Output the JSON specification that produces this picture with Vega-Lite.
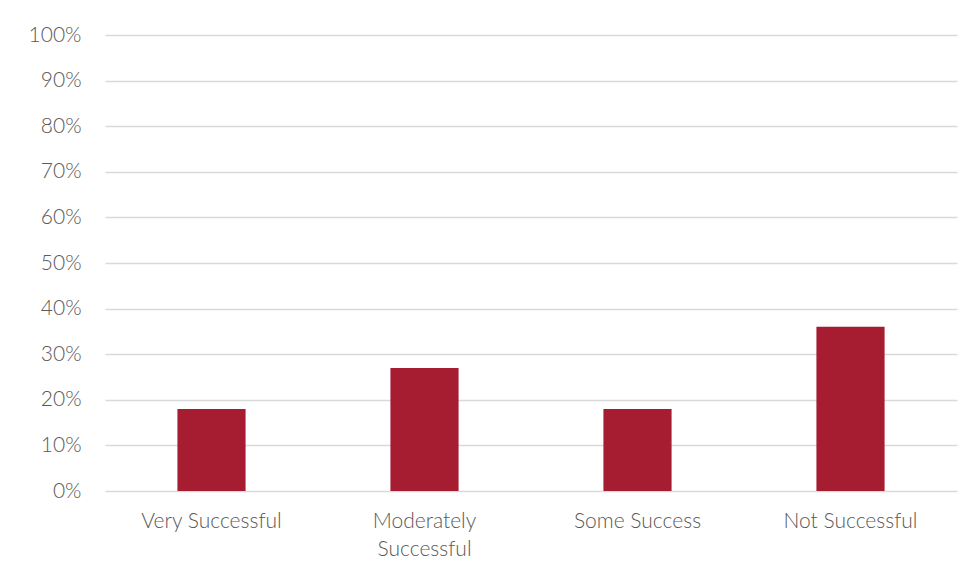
{
  "$schema": "https://vega.github.io/schema/vega-lite/v6.json",
  "autosize": {"type": "none"},
  "width": 852,
  "height": 456,
  "padding": {"left": 105, "top": 35, "right": 13, "bottom": 90},
  "background": "white",
  "config": {
    "view": {"stroke": null},
    "font": "Lato"
  },
  "data": {
    "values": [
      {"category": "Very Successful", "value": 0.18},
      {"category": "Moderately Successful", "value": 0.27},
      {"category": "Some Success", "value": 0.18},
      {"category": "Not Successful", "value": 0.36}
    ]
  },
  "mark": {"type": "bar", "color": "#A61D31"},
  "encoding": {
    "x": {
      "field": "category",
      "type": "nominal",
      "sort": null,
      "scale": {"paddingInner": 0.68, "paddingOuter": 0.34},
      "axis": {
        "title": null,
        "labelAngle": 0,
        "domain": false,
        "ticks": false,
        "labelPadding": 19,
        "labelFont": "Lato",
        "labelFontSize": 21,
        "labelFontWeight": 300,
        "labelColor": "#595959",
        "labelLineHeight": 28,
        "labelOverlap": false,
        "labelExpr": "datum.label == 'Moderately Successful' ? ['Moderately', 'Successful'] : datum.label"
      }
    },
    "y": {
      "field": "value",
      "type": "quantitative",
      "scale": {"domain": [0, 1]},
      "axis": {
        "title": null,
        "format": ".0%",
        "values": [0, 0.1, 0.2, 0.3, 0.4, 0.5, 0.6, 0.7, 0.8, 0.9, 1],
        "labelOverlap": false,
        "domain": false,
        "ticks": false,
        "labelPadding": 24,
        "labelFont": "Lato",
        "labelFontSize": 21,
        "labelFontWeight": 300,
        "labelColor": "#595959",
        "gridColor": "#d9d9d9",
        "gridWidth": 1.5
      }
    }
  }
}
